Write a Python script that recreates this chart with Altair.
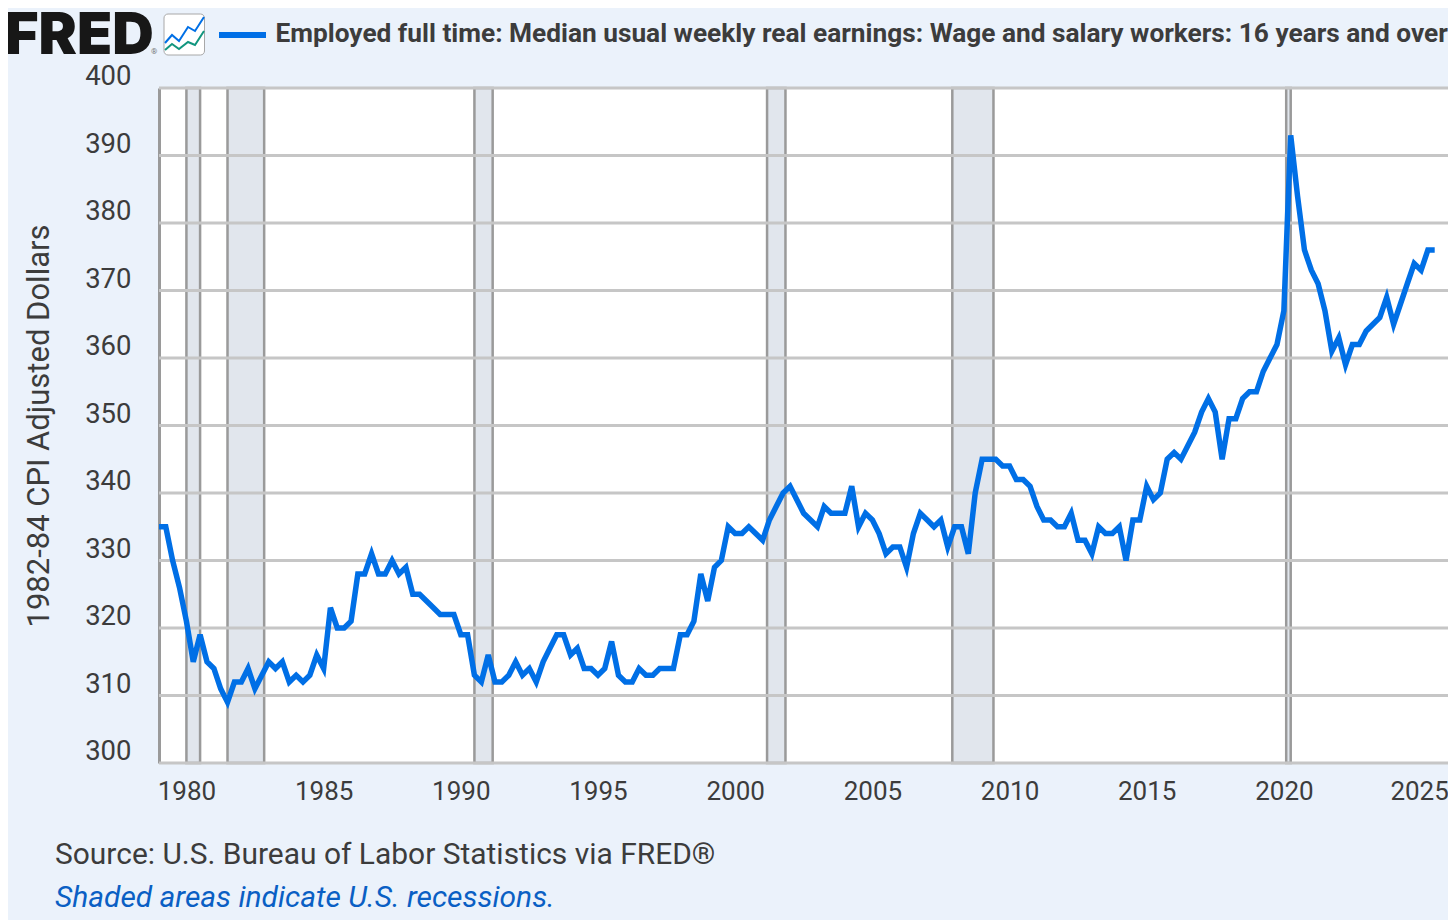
import altair as alt
import pandas as pd

BG = "#ebf2fb"
LINE = "#006fe6"
TEXT = "#3c3c3c"

values = [
    335, 335, 330, 326, 321, 315, 319, 315, 314, 311, 309, 312, 312, 314, 311, 313,
    315, 314, 315, 312, 313, 312, 313, 316, 314, 323, 320, 320, 321, 328, 328, 331,
    328, 328, 330, 328, 329, 325, 325, 324, 323, 322, 322, 322, 319, 319, 313, 312,
    316, 312, 312, 313, 315, 313, 314, 312, 315, 317, 319, 319, 316, 317, 314, 314,
    313, 314, 318, 313, 312, 312, 314, 313, 313, 314, 314, 314, 319, 319, 321, 328,
    324, 329, 330, 335, 334, 334, 335, 334, 333, 336, 338, 340, 341, 339, 337, 336,
    335, 338, 337, 337, 337, 341, 335, 337, 336, 334, 331, 332, 332, 329, 334, 337,
    336, 335, 336, 332, 335, 335, 331, 340, 345, 345, 345, 344, 344, 342, 342, 341,
    338, 336, 336, 335, 335, 337, 333, 333, 331, 335, 334, 334, 335, 330, 336, 336,
    341, 339, 340, 345, 346, 345, 347, 349, 352, 354, 352, 345, 351, 351, 354, 355,
    355, 358, 360, 362, 367, 393, 384, 376, 373, 371, 367, 361, 363, 359, 362, 362,
    364, 365, 366, 369, 365, 368, 371, 374, 373, 376, 376,
]
start_date = "1979-01-01"
x_domain = ["1979-01-01", "2025-12-25"]
y_ticks = list(range(300, 401, 10))
x_ticks = [f"{y}-01-01" for y in range(1980, 2026, 5)]
rec_start = ["1980-01-01", "1981-07-01", "1990-07-01", "2001-03-01", "2007-12-01", "2020-02-01"]
rec_end = ["1980-07-01", "1982-11-01", "1991-03-01", "2001-11-01", "2009-06-01", "2020-04-01"]

series_name = "Employed full time: Median usual weekly real earnings: Wage and salary workers: 16 years and over"
y_title = "1982-84 CPI Adjusted Dollars"
source = "Source: U.S. Bureau of Labor Statistics via FRED®"
note = "Shaded areas indicate U.S. recessions."

icon_x = [0, 7, 14, 23, 30, 39]
icon_blue = [12, 20, 14, 28, 24, 38]
icon_green = [5, 11, 6, 13, 10, 24]

W, H = 1289, 675
PL, PT = 159, 88  # plot origin on the page
L, T = PL - 8, PT - 8  # inside the canvas

df = pd.DataFrame({"date": pd.date_range(start_date, periods=len(values), freq="QS"), "value": values})
rec = pd.DataFrame({"s": rec_start, "e": rec_end})
grid = pd.DataFrame({"v": y_ticks})

xs = alt.Scale(domain=x_domain)
ys = alt.Scale(domain=[300, 400], nice=False, zero=False)
x_axis = alt.Axis(
    values=x_ticks, format="%Y", title=None, grid=False, domain=False,
    ticks=False, labelFontSize=26, labelFont="Roboto", labelColor=TEXT,
    labelPadding=15, labelFlush=False, labelOverlap=False, labelBound=False,
    labelOffset=alt.expr("datum.label == '2025' ? -2 : 0"))
y_axis = alt.Axis(
    values=y_ticks, title=y_title, titleFont="Roboto", titleFontSize=31,
    titleFontWeight="normal", titleColor=TEXT, titlePadding=29,
    grid=False, ticks=False, domain=True, domainColor="#9a9a9a", domainWidth=3,
    labelFontSize=27.5, labelFont="Roboto", labelColor=TEXT, labelPadding=28,
    labelOffset=-11.5, labelOverlap=False)

recess = alt.Chart(rec).mark_rect(fill="#e1e6ed", stroke="#9a9a9a", strokeWidth=2.5).encode(
    x=alt.X("s:T", scale=xs, axis=x_axis), x2="e:T"
)
gridlines = alt.Chart(grid).mark_rule(color="#c6c6c6", strokeWidth=3.2).encode(
    y=alt.Y("v:Q", scale=ys, axis=y_axis)
)
line = alt.Chart(df).mark_line(color=LINE, strokeWidth=5.5, strokeJoin="miter", strokeCap="butt", clip=False).encode(
    x=alt.X("date:T", scale=xs, axis=x_axis),
    y=alt.Y("value:Q", scale=ys, axis=y_axis),
)
main = alt.layer(recess, gridlines, line)

one = pd.DataFrame({"a": [0]})


def label(txt, x, y, font="Roboto", **kw):
    return alt.Chart(one).mark_text(
        text=txt, align="left", baseline="alphabetic", font=font, **kw
    ).encode(x=alt.value(x - PL), y=alt.value(y - PT))


texts = [
    label("FRED", 5, 54, font="Inter", fontSize=57.5, fontWeight=900, color="#171717"),
    label("®", 151, 54, fontSize=8, color="#777777"),
    label(series_name, 275.5, 42, fontSize=26.25, fontWeight=700, color=TEXT),
    label(source, 55, 864, fontSize=29.95, color=TEXT),
    label(note, 55, 907, fontSize=29.95, fontStyle="italic", color="#0a5fc4"),
]
legend_line = alt.Chart(one).mark_rule(color=LINE, strokeWidth=6).encode(
    x=alt.value(219 - PL), x2=alt.value(266 - PL), y=alt.value(35 - PT)
)
icon_box = alt.Chart(one).mark_rect(
    fill="white", stroke="#a8a8a8", strokeWidth=1, cornerRadius=4
).encode(x=alt.value(164 - PL), x2=alt.value(204.5 - PL), y=alt.value(14 - PT), y2=alt.value(55 - PT))

icon_df = pd.DataFrame({"x": icon_x * 2, "y": icon_blue + icon_green,
                        "s": ["b"] * len(icon_x) + ["g"] * len(icon_x)})
icon_lines = alt.Chart(icon_df).mark_line(strokeWidth=2).encode(
    x=alt.X("x:Q", axis=None, scale=alt.Scale(domain=[0, 39], range=[165 - PL, 204 - PL])),
    y=alt.Y("y:Q", axis=None, scale=alt.Scale(domain=[0, 38], range=[55 - PT, 17 - PT])),
    color=alt.Color("s:N", legend=None, scale=alt.Scale(domain=["b", "g"], range=[LINE, "#12967f"])),
    detail="s:N",
)

chart = alt.layer(main, alt.layer(icon_box, icon_lines, legend_line, *texts)).resolve_scale(
    x="independent", y="independent"
).properties(
    width=W, height=H, background=BG,
    padding={"left": L, "top": T, "right": 1440 - L - W, "bottom": 912 - T - H},
    autosize=alt.AutoSizeParams(type="none"),
).configure_view(fill="white", stroke=None)

chart.save("out.html", embed_options={"renderer": "svg", "actions": False})
